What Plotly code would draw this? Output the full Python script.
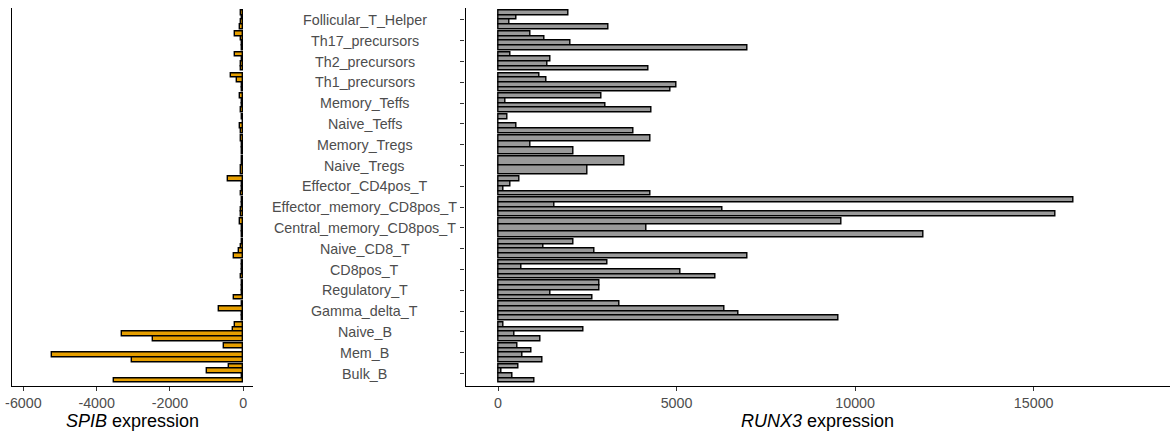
import plotly.graph_objects as go

# Categories, top to bottom
categories = [
    "Follicular_T_Helper", "Th17_precursors", "Th2_precursors", "Th1_precursors",
    "Memory_Teffs", "Naive_Teffs", "Memory_Tregs", "Naive_Tregs",
    "Effector_CD4pos_T", "Effector_memory_CD8pos_T", "Central_memory_CD8pos_T",
    "Naive_CD8_T", "CD8pos_T", "Regulatory_T", "Gamma_delta_T",
    "Naive_B", "Mem_B", "Bulk_B",
]

# RUNX3 expression per sample (top to bottom within each category)
runx3 = [
    [1988, 505, 308, 3090],
    [905, 1298, 2017, 6982],
    [345, 1465, 1391, 4219],
    [1167, 1354, 5003, 4817],
    [2912, 196, 3006, 4285],
    [271, 15, 523, 3800],
    [4257, 924, 2109],
    [3529, 2511],
    [597, 354, 140, 4266],
    [16110, 1596, 6282, 15598],
    [9624, 4172, 11929],
    [2101, 1269, 2698, 6982],
    [3061, 653, 5106, 6086],
    [2838, 2838, 1475, 2660],
    [3398, 6348, 6730, 9541],
    [140, 2399, 457, 1204],
    [541, 933, 681, 1251],
    [579, 93, 410, 1036],
]

# SPIB expression (plotted as negative values)
spib = [
    [-71, -45, -50, -90],
    [-227, -71, -30, -45],
    [-227, -30, -71, -71],
    [-336, -164, -30, -45],
    [-90, -30, -30, -71],
    [-30, -15, -90, -71],
    [-71, -25, -45],
    [-25, -71],
    [-427, -30, -40, -71],
    [-40, -30, -60, -60],
    [-90, -30, -40],
    [-45, -71, -109, -246],
    [-30, -30, -40, -60],
    [-30, -30, -40, -254],
    [-30, -664, -30, -40],
    [-227, -273, -3314, -2467],
    [-519, -10, -5227, -3049],
    [-399, -1000, -30, -3533],
]

spib_ticks = [-6000, -4000, -2000, 0]
spib_ticklabels = ["-6000", "-4000", "-2000", "0"]
runx3_ticks = [0, 5000, 10000, 15000]
runx3_ticklabels = ["0", "5000", "10000", "15000"]

ncat = len(categories)
cat_pos = [ncat - i for i in range(ncat)]
DODGE = 0.9


def dodge(values_by_cat):
    ys, xs, ws = [], [], []
    for i, vals in enumerate(values_by_cat):
        n = len(vals)
        w = DODGE / n
        for k, v in enumerate(vals):
            ys.append(cat_pos[i] + DODGE / 2 - (k + 0.5) * w)
            xs.append(v)
            ws.append(w)
    return xs, ys, ws


sx, sy, sw = dodge(spib)
rx, ry, rw = dodge(runx3)

fig = go.Figure()
fig.add_trace(go.Bar(
    x=sx, y=sy, width=sw, orientation="h",
    marker=dict(color="#E69F00", line=dict(color="black", width=1.4)),
    xaxis="x", yaxis="y", showlegend=False, hoverinfo="x",
))
fig.add_trace(go.Bar(
    x=rx, y=ry, width=rw, orientation="h",
    marker=dict(color="#999999", line=dict(color="black", width=1.4)),
    xaxis="x2", yaxis="y2", showlegend=False, hoverinfo="x",
))

W, H = 1170, 434
font_family = "Liberation Sans, Arial, sans-serif"
tickfont = dict(family=font_family, size=14.3, color="#4D4D4D")
titlefont = dict(family=font_family, size=18, color="black")
ydom = [1 - 386 / H, 1 - 7.5 / H]
yrange = [0.4, ncat + 0.6]
xdom1 = [12 / W, 253 / W]
xdom2 = [465.5 / W, 1]
label_center = 364.7 / W

common_x = dict(
    showgrid=False, zeroline=False, showline=True, linecolor="black", linewidth=1.3,
    ticks="outside", ticklen=4, tickwidth=1.1, tickcolor="#333333",
    tickfont=tickfont, tickmode="array", automargin=False,
)

annotations = [
    dict(text="<i>SPIB</i> expression", xref="paper", yref="paper",
         x=(xdom1[0] + xdom1[1]) / 2, y=1 - 421 / H, xanchor="center", yanchor="middle",
         showarrow=False, font=titlefont),
    dict(text="<i>RUNX3</i> expression", xref="paper", yref="paper",
         x=(xdom2[0] + xdom2[1]) / 2, y=1 - 421 / H, xanchor="center", yanchor="middle",
         showarrow=False, font=titlefont),
]
# Category labels, centre-aligned like the reference
for name, pos in zip(categories, cat_pos):
    annotations.append(dict(
        text=name, xref="paper", yref="y2", x=label_center, y=pos,
        xanchor="center", yanchor="middle", showarrow=False, font=tickfont,
    ))

fig.update_layout(
    width=W, height=H,
    margin=dict(l=0, r=0, t=0, b=0, autoexpand=False),
    paper_bgcolor="white", plot_bgcolor="white",
    bargap=0, barmode="overlay",
    font=dict(family=font_family),
    xaxis=dict(
        domain=xdom1, anchor="y", range=[-6311, 265],
        tickvals=spib_ticks, ticktext=spib_ticklabels,
        **common_x,
    ),
    yaxis=dict(
        domain=ydom, anchor="x", range=yrange, automargin=False,
        showgrid=False, zeroline=False, showline=True, linecolor="black", linewidth=1.3,
        showticklabels=False, ticks="",
    ),
    xaxis2=dict(
        domain=xdom2, anchor="y2", range=[-910, 18818],
        tickvals=runx3_ticks, ticktext=runx3_ticklabels,
        **common_x,
    ),
    yaxis2=dict(
        domain=ydom, anchor="x2", range=yrange, automargin=False,
        showgrid=False, zeroline=False, showline=True, linecolor="black", linewidth=1.3,
        tickmode="array", tickvals=cat_pos, showticklabels=False,
        ticks="outside", ticklen=4, tickwidth=1.1, tickcolor="#333333",
    ),
    annotations=annotations,
)

fig.write_html(
    "out.html",
    config={"displayModeBar": False},
    post_script="document.body.style.margin='0px';document.body.style.overflow='hidden';",
)
